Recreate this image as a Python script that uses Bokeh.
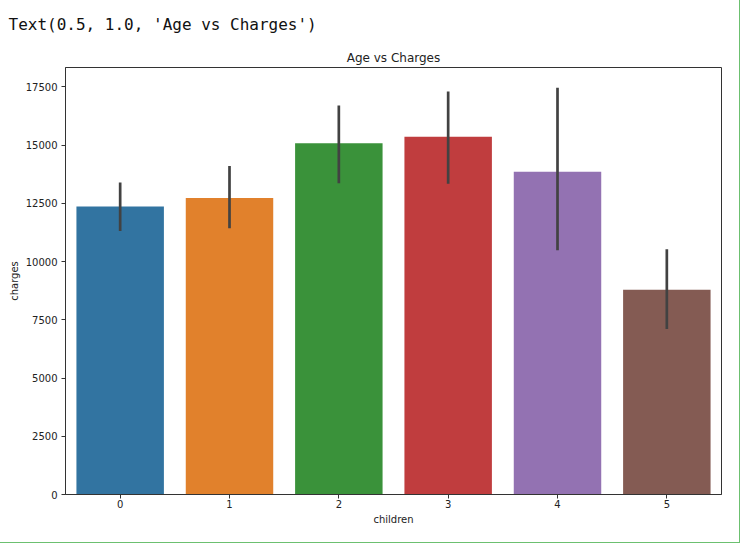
from bokeh.plotting import figure
from bokeh.models import FixedTicker, Range1d, ColumnDataSource, Title
from bokeh.embed import file_html
from bokeh.resources import INLINE

children = [0, 1, 2, 3, 4, 5]
tick_labels = ["0", "1", "2", "3", "4", "5"]
charges = [12366, 12731, 15074, 15355, 13851, 8786]
ci_low = [11316, 11430, 13360, 13340, 10490, 7100]
ci_high = [13390, 14100, 16700, 17300, 17460, 10530]
colors = ["#3274a1", "#e1812c", "#3a923a", "#c03d3e", "#9372b2", "#845b53"]
y_ticks = [0, 2500, 5000, 7500, 10000, 12500, 15000, 17500]

src = ColumnDataSource(dict(x=children, top=charges, lo=ci_low, hi=ci_high, c=colors))

p = figure(width=740, height=543, output_backend="svg", toolbar_location=None,
           x_range=Range1d(-0.5, 5.5), y_range=Range1d(0, 18330),
           min_border_left=65, min_border_right=19, min_border_top=67, min_border_bottom=49)
p.styles = {"border-right": "1px solid #6cc070", "border-bottom": "1px solid #6cc070"}

p.vbar(x="x", top="top", width=0.8, fill_color="c", line_color=None, source=src)
p.segment(x0="x", x1="x", y0="lo", y1="hi", line_color="#424242", line_width=2.7, source=src)

t1 = Title(text="Age vs Charges", align="center", text_font="DejaVu Sans",
           text_font_size="12px", text_font_style="normal", text_color="#222222",
           standoff=5)
t2 = Title(text="Text(0.5, 1.0, 'Age vs Charges')", align="left", offset=-57,
           text_font="DejaVu Sans Mono", text_font_size="16px",
           text_font_style="normal", text_color="#111111", standoff=25)
p.add_layout(t1, "above")
p.add_layout(t2, "above")

p.xgrid.visible = False
p.ygrid.visible = False
p.outline_line_color = "#333333"
p.outline_line_width = 1
p.background_fill_color = "white"
p.border_fill_color = "white"

p.xaxis.ticker = FixedTicker(ticks=children)
p.xaxis.major_label_overrides = {c: t for c, t in zip(children, tick_labels)}
p.yaxis.ticker = FixedTicker(ticks=y_ticks)
p.yaxis.formatter.use_scientific = False
p.xaxis.axis_label = "children"
p.yaxis.axis_label = "charges"
for ax in (p.xaxis, p.yaxis):
    ax.minor_tick_line_color = None
    ax.major_tick_in = 0
    ax.major_tick_out = 4
    ax.major_tick_line_color = "#333333"
    ax.axis_line_color = "#333333"
    ax.major_label_text_font = "DejaVu Sans"
    ax.major_label_text_font_size = "10px"
    ax.major_label_text_color = "#222222"
    ax.major_label_standoff = 4
    ax.axis_label_text_font = "DejaVu Sans"
    ax.axis_label_text_font_size = "10px"
    ax.axis_label_text_font_style = "normal"
    ax.axis_label_text_color = "#222222"
p.xaxis.major_label_standoff = 1
p.xaxis.axis_label_standoff = 3
p.yaxis.axis_label_standoff = 3

open("out.html", "w").write(file_html(p, INLINE))
